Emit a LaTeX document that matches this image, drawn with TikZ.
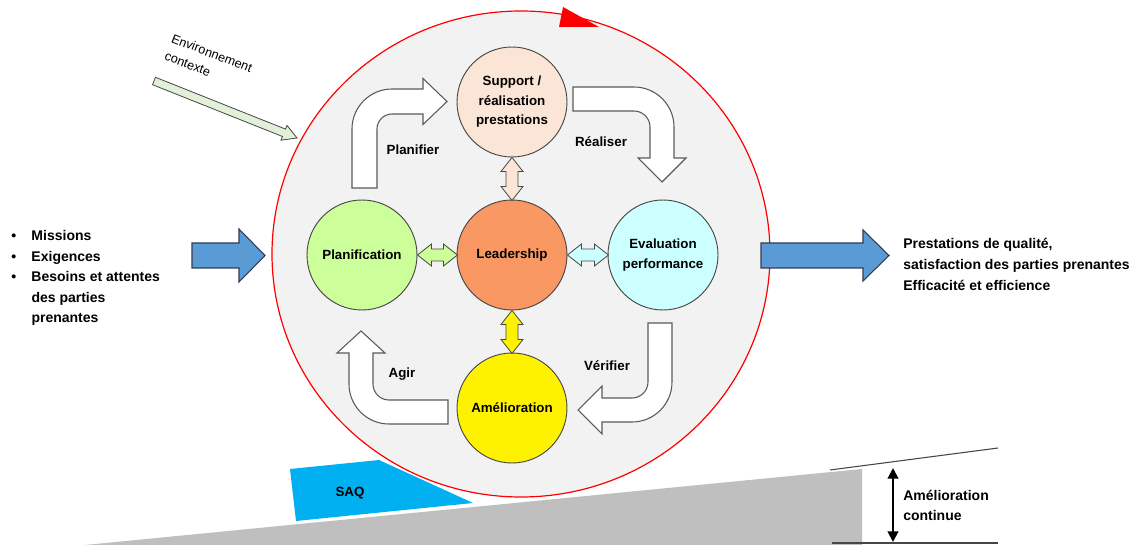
\documentclass[tikz,border=0pt]{standalone}
\usepackage{fontspec}
\setmainfont{Liberation Sans}
\usetikzlibrary{arrows.meta}
\definecolor{peach}{RGB}{251,229,214}
\definecolor{leadorange}{RGB}{250,152,100}
\definecolor{lightgreen}{RGB}{204,255,153}
\definecolor{lightcyan}{RGB}{204,255,255}
\definecolor{envgreen}{RGB}{226,240,217}
\definecolor{blockblue}{RGB}{91,155,213}
\definecolor{blueline}{RGB}{50,60,80}
\definecolor{saqblue}{RGB}{0,176,240}
\definecolor{rampgray}{RGB}{191,191,191}
\definecolor{bigfill}{RGB}{242,242,242}
\definecolor{circline}{RGB}{70,70,70}
\definecolor{bentline}{RGB}{90,90,90}
\newcommand\vdblarrow[3]{%
  \draw[dbl,fill=#3] (#1) -- ++(11,14) -- ++(-5,0) -- ++(0,#2-28) -- ++(5,0) -- ++(-11,14)
     -- ++(-11,-14) -- ++(5,0) -- ++(0,28-#2) -- ++(-5,0) -- cycle;}
\newcommand\hdblarrow[3]{%
  \draw[dbl,fill=#3] (#1) -- ++(14,-11) -- ++(0,5) -- ++(#2-28,0) -- ++(0,-5) -- ++(14,11)
     -- ++(-14,11) -- ++(0,-5) -- ++(28-#2,0) -- ++(0,5) -- cycle;}
\begin{document}
\begin{tikzpicture}[x=0.75pt,y=-0.75pt,
  circ/.style={circle, draw=circline, line width=0.7pt, minimum size=82.5pt, inner sep=0pt,
     align=center, font=\fontsize{10}{14.6}\selectfont\bfseries},
  dbl/.style={draw=circline, line width=0.6pt},
  bent/.style={draw=bentline, fill=white, line width=0.8pt},
  lbl/.style={font=\fontsize{10}{14}\selectfont\bfseries, inner sep=0pt},
  outtext/.style={font=\fontsize{10.5}{16}\selectfont\bfseries, inner sep=0pt, align=left},
  block/.style={draw=blueline, fill=blockblue, line width=0.8pt}]
\useasboundingbox (0,0) rectangle (1147,545);
\fill[white] (0,0) rectangle (1147,545);

% ramp and SAQ
\fill[rampgray] (85,545) -- (862,469) -- (862,545) -- cycle;
\fill[saqblue] (290,469) -- (379,460) -- (473,503) -- (296,521) -- cycle;
\node[lbl] (saq) at (350,493) {SAQ};

% big circle
\draw[red, fill=bigfill, line width=0.9pt] (521,254) ellipse [x radius=249, y radius=243];
\fill[red] (563,7) -- (559,27) -- (599,27) -- cycle;

% environment arrow
\draw[draw=circline, fill=envgreen, line width=0.6pt]
  (155.5,77.3) -- (285.5,129.1) -- (287.0,125.4) -- (297,138) -- (281.0,140.2) -- (282.5,136.5) -- (152.5,84.7) -- cycle;
\node[font=\fontsize{9.5}{14}\selectfont, align=left, rotate=-21, inner sep=0pt] (env) at (208.6,61.9) {Environnement\\contexte};

% inner circles
\node[circ, fill=peach] (supp) at (512,102) {Support /\\réalisation\\prestations};
\node[circ, fill=leadorange] (lead) at (512,255) {Leadership};
\node[circ, fill=lightgreen] (plan) at (362,255) {Planification};
\node[circ, fill=lightcyan] (eval) at (663,255) {Evaluation\\performance};
\node[circ, fill=yellow] (amel) at (512,408) {Amélioration};

% double arrows
\vdblarrow{supp.south}{43}{peach}
\vdblarrow{lead.south}{43}{yellow}
\hdblarrow{plan.east}{40}{lightgreen}
\hdblarrow{lead.east}{41}{lightcyan}

% bent arrows
\draw[bent] (352,188) -- (352,129) .. controls (352,106.9) and (369.9,89) .. (392,89)
  -- (423,89) -- (423,78.5) -- (447,101.5) -- (423,124.5) -- (423,114) -- (392,114)
  .. controls (383.7,114) and (377,120.7) .. (377,129) -- (377,188) -- cycle;
\draw[bent] (573,87) -- (634,87) .. controls (656.1,87) and (674,104.9) .. (674,127)
  -- (674,158) -- (686,158) -- (662,182) -- (638,158) -- (650,158) -- (650,127)
  .. controls (650,118.2) and (642.8,111) .. (634,111) -- (573,111) -- cycle;
\draw[bent] (648,323) -- (672,323) -- (672,382) .. controls (672,404.1) and (654.1,422) .. (632,422)
  -- (602,422) -- (602,434) -- (578,410) -- (602,386) -- (602,398) -- (632,398)
  .. controls (640.8,398) and (648,390.8) .. (648,382) -- cycle;
\draw[bent] (448,400) -- (448,424) -- (389,424) .. controls (366.9,424) and (349,406.1) .. (349,384)
  -- (349,353) -- (337,353) -- (361,331) -- (385,353) -- (373,353) -- (373,384)
  .. controls (373,392.8) and (380.2,400) .. (389,400) -- cycle;

\node[lbl] (planifier) at (413,150) {Planifier};
\node[lbl] (realiser) at (601,142) {Réaliser};
\node[lbl] (verifier) at (607,366) {Vérifier};
\node[lbl] (agir) at (402,374) {Agir};

% blue block arrows
\draw[block] (192,243) -- (239,243) -- (239,229) -- (265,255.5) -- (239,282) -- (239,268) -- (192,268) -- cycle;
\draw[block] (761,243) -- (863,243) -- (863,230) -- (889,255.5) -- (863,281) -- (863,268) -- (761,268) -- cycle;

% left text
\node[inner sep=0pt, anchor=west, font=\fontsize{10.5}{15.4}\selectfont\bfseries] (inputs) at (11,277.5)
  {\begin{tabular}{@{}l@{\hspace{11.5pt}}l@{}}
   •&Missions\\ •&Exigences\\ •&Besoins et attentes\\ &des parties\\ &prenantes
   \end{tabular}};
% right text
\node[outtext, anchor=west] (outputs) at (903,264.5)
  {Prestations de qualité,\\satisfaction des parties prenantes\\Efficacité et efficience};

% improvement scale
\coordinate (ltop1) at (830,470);
\coordinate (ltop2) at (998,448);
\coordinate (lbot1) at (832,543);
\coordinate (lbot2) at (998,543);
\draw[circline, line width=0.8pt] (ltop1) -- (ltop2);
\draw[circline, line width=0.8pt] (lbot1) -- (lbot2);
\coordinate (ac1) at (893,468);
\coordinate (ac2) at (893,542);
\draw[line width=1.5pt, {Triangle[length=8pt,width=8pt]}-{Triangle[length=8pt,width=8pt]}] (ac1) -- (ac2);
\node[outtext, anchor=west, font=\fontsize{10.5}{15}\selectfont\bfseries] (amc) at (903,505) {Amélioration\\continue};
\end{tikzpicture}
\end{document}
